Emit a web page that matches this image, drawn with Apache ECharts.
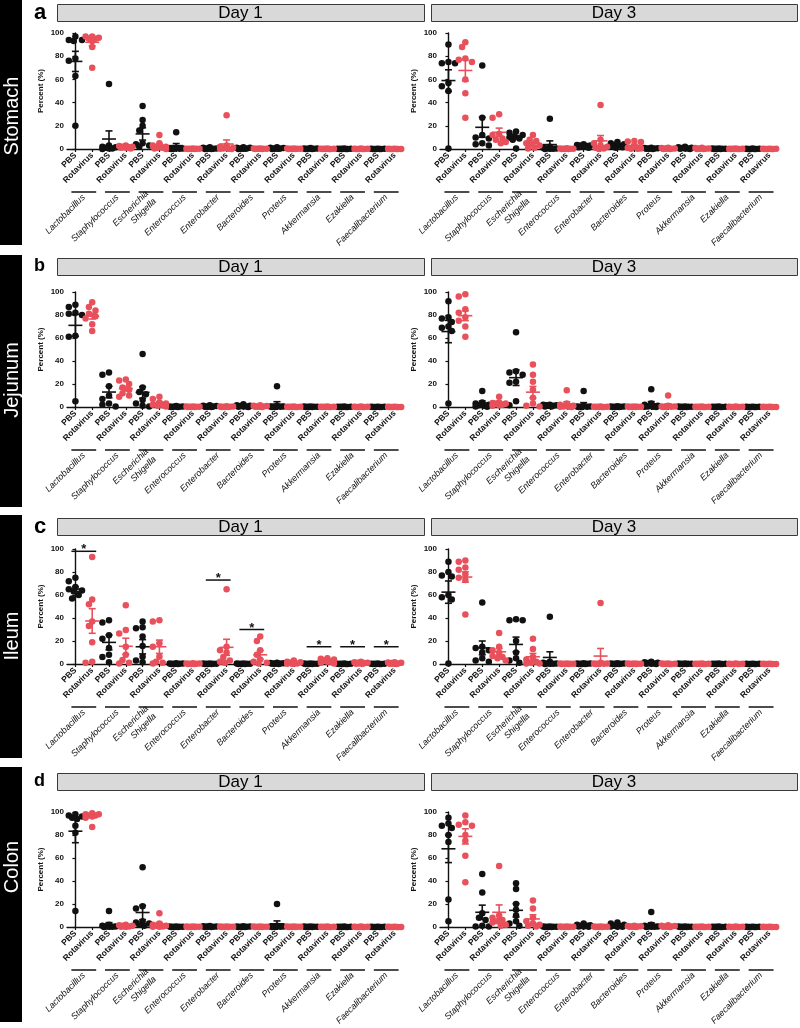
<!DOCTYPE html>
<html>
<head>
<meta charset="utf-8">
<script src="https://cdn.jsdelivr.net/npm/echarts@6/dist/echarts.min.js"></script>
<style>
html,body{margin:0;padding:0;background:#fff;}
#main{width:800px;height:1028px;}
</style>
</head>
<body>
<div id="main"></div>
<script>
// categories
var genera = ['Lactobacillus','Staphylococcus','Escherichia\nShigella','Enterococcus','Enterobacter',
              'Bacteroides','Proteus','Akkermansia','Ezakiella','Faecalibacterium'];
var groups = ['PBS','Rotavirus'];
var tissues = ['Stomach','Jejunum','Ileum','Colon'];
var panelLetters = ['a','b','c','d'];
var days = ['Day 1','Day 3'];

// points per group: order PBS, Rotavirus for each genus
var stomachDay1Pts = [
  [97,94,94,93,78,76,63,20], [97,97,96,95,95,93,88,70],
  [56,3,2,1.5,1,0.5,0.5,0], [3,2.5,2,2,1.5,1,1,0.5],
  [37,25,20,16,5,4,3,2], [12,5,3,2,1,1,0.5,0],
  [14.5,1,0.5,0.5,0.5,0.3,0.2,0], [0.5,0.3,0.3,0.2,0.2,0.1,0.1,0],
  [1.5,1,0.5,0.5,0.3,0.2,0.1,0], [29,3,2,1,0.5,0.3,0.2,0],
  [1.5,1,1,0.5,0.5,0.3,0.2,0.1], [0.5,0.4,0.3,0.3,0.2,0.2,0.1,0],
  [1.5,1,0.8,0.5,0.5,0.3,0.2,0.1], [0.5,0.4,0.3,0.2,0.2,0.1,0.1,0],
  [0.8,0.5,0.4,0.3,0.2,0.2,0.1,0], [0.4,0.3,0.2,0.2,0.1,0.1,0,0],
  [0.4,0.3,0.2,0.2,0.1,0.1,0,0], [0.4,0.3,0.2,0.1,0.1,0,0,0],
  [0.3,0.2,0.2,0.1,0.1,0,0,0], [0.3,0.2,0.1,0.1,0,0,0,0]
];
var stomachDay1Mean = [75.5,92,8.6,2,13,3.2,2.9,0.2,0.5,4.3,0.6,0.3,0.6,0.2,0.3,0.2,0.2,0.1,0.1,0.1];
var stomachDay1Sem  = [8.7,3.2,7,0.3,5.3,1.4,1.8,0.1,0.2,3.5,0.2,0.1,0.2,0.1,0.1,0.05,0.05,0.05,0.05,0.05];

var stomachDay3Pts = [
  [90,75,74,74,57,54,50,0.5], [92,88,78,77,75,60,48,27],
  [72,27,12,10,9,5,4,3], [30,27,13,12,9,8,6,5],
  [15,14,12,11,10,9,8,0.5], [12,8,7,5,4,3,1,0.5],
  [26,2,1,0.5,0.5,0.3,0.2,0], [0.6,0.5,0.3,0.3,0.2,0.1,0.1,0],
  [4,3.5,3,3,2.5,2,1.5,1], [38,8,5,3,2,1,0.5,0],
  [6,5,4,3.5,3,2,1.5,1], [7,6.5,6,2,1,0.5,0.3,0.2],
  [1,0.8,0.6,0.5,0.4,0.3,0.2,0.1], [1,0.8,0.5,0.4,0.3,0.2,0.1,0],
  [2,1.5,1,0.8,0.5,0.4,0.2,0.1], [1,0.8,0.5,0.4,0.3,0.2,0.1,0],
  [0.5,0.4,0.3,0.2,0.2,0.1,0.1,0], [0.4,0.3,0.2,0.2,0.1,0.1,0,0],
  [0.4,0.3,0.2,0.1,0.1,0.1,0,0], [0.3,0.2,0.2,0.1,0.1,0,0,0]
];
var stomachDay3Mean = [59,67.7,18.7,14.4,10,4.9,3.8,0.3,2.5,7,3,3,0.5,0.4,0.8,0.4,0.2,0.2,0.2,0.1];
var stomachDay3Sem  = [9.3,9,8.6,3.6,1.6,1.5,3.2,0.1,0.4,4.6,0.6,1.1,0.1,0.1,0.2,0.1,0.05,0.05,0.05,0.05];

var jejunumDay1Pts = [
  [89,87,82,81,80,62,61,5], [91,87,84,81,79,77,72,66],
  [30,28,18,10,7,3,2,0.5], [24,23,20,17,15,12,10,9],
  [46,17,13,11,6,3,1,0.5], [9,7,4,3,2,1.5,1,0.5],
  [0.8,0.5,0.4,0.3,0.2,0.2,0.1,0], [0.5,0.4,0.3,0.2,0.2,0.1,0.1,0],
  [1.5,1,0.8,0.5,0.4,0.3,0.2,0.1], [0.6,0.5,0.4,0.3,0.2,0.1,0.1,0],
  [2.5,1.5,1,0.8,0.5,0.4,0.2,0.1], [1.5,1,0.8,0.5,0.4,0.3,0.2,0.1],
  [18,1,0.5,0.4,0.3,0.2,0.1,0], [0.4,0.3,0.2,0.2,0.1,0.1,0,0],
  [0.5,0.4,0.3,0.2,0.2,0.1,0.1,0], [0.4,0.3,0.2,0.2,0.1,0.1,0,0],
  [0.4,0.3,0.2,0.2,0.1,0.1,0,0], [0.4,0.3,0.2,0.1,0.1,0,0,0],
  [0.3,0.2,0.2,0.1,0.1,0,0,0], [0.3,0.2,0.1,0.1,0,0,0,0]
];
var jejunumDay1Mean = [71,79,13,16,12.7,3.5,0.3,0.2,0.6,0.3,0.9,0.6,2.3,0.2,0.2,0.2,0.2,0.1,0.1,0.1];
var jejunumDay1Sem  = [9.5,2.5,5,2,5,1.1,0.1,0.1,0.2,0.1,0.3,0.2,2.3,0.05,0.05,0.05,0.05,0.05,0.05,0.05];

var jejunumDay3Pts = [
  [92,78,77,74,70,69,66,3], [98,96,85,82,78,75,70,61],
  [14,4,3,2,1.5,1,0.5,0.3], [9,4,3.5,3,3,2,1.5,1],
  [65,31,30,28,22,21,5,1.5], [37,28,22,15,8,3,1,0.5],
  [2,2,1.5,1.5,1,1,0.5,0.5], [14.5,3,2,1,0.5,0.3,0.2,0],
  [14,1,0.5,0.4,0.3,0.2,0.1,0], [0.4,0.3,0.2,0.2,0.1,0.1,0,0],
  [0.6,0.5,0.4,0.3,0.2,0.1,0.1,0], [0.5,0.4,0.3,0.2,0.2,0.1,0,0],
  [15.5,3,2,1,0.5,0.3,0.2,0], [10,1,0.5,0.4,0.3,0.2,0.1,0],
  [0.5,0.4,0.3,0.2,0.2,0.1,0.1,0], [0.4,0.3,0.2,0.2,0.1,0.1,0,0],
  [0.4,0.3,0.2,0.2,0.1,0.1,0,0], [0.4,0.3,0.2,0.1,0.1,0,0,0],
  [0.3,0.2,0.2,0.1,0.1,0,0,0], [0.3,0.2,0.1,0.1,0,0,0,0]
];
var jejunumDay3Mean = [65.6,79.4,3.4,3.4,25.5,12.9,1.3,2.7,2,0.2,0.3,0.2,2.8,1.6,0.2,0.2,0.2,0.1,0.1,0.1];
var jejunumDay3Sem  = [9.7,4.3,1.8,1,6.8,5,0.2,1.8,1.8,0.05,0.1,0.1,1.9,1.2,0.05,0.05,0.05,0.05,0.05,0.05];

var ileumDay1Pts = [
  [75,72,67,65,64,63,60,57], [93,56,52,37,33,19,2,1],
  [38,36,25,22,14,8,6,1.5], [51,29.5,26.5,15,8,3.5,1,0.5],
  [37,32,31,24,15.6,6.4,3,1.5], [38,37,18,15,6.4,2,1,0.5],
  [0.6,0.5,0.4,0.3,0.2,0.1,0.1,0], [0.6,0.5,0.4,0.3,0.2,0.1,0.1,0],
  [0.5,0.4,0.3,0.3,0.2,0.1,0.1,0], [65,15,12,10,6,3,2,1],
  [0.5,0.4,0.3,0.3,0.2,0.1,0.1,0], [24,20,12,8,4,2,1,0.5],
  [1,0.8,0.6,0.5,0.4,0.3,0.2,0.1], [3,2,1.5,1,0.5,0.5,0.3,0.2],
  [0.5,0.4,0.3,0.2,0.2,0.1,0.1,0], [5,4.5,4,3,2,2,1,0.5],
  [0.4,0.3,0.3,0.2,0.1,0.1,0,0], [2,1.5,1,1,0.8,0.5,0.3,0.2],
  [0.4,0.3,0.2,0.2,0.1,0.1,0,0], [1.5,1.2,1,0.8,0.5,0.3,0.2,0.1]
];
var ileumDay1Mean = [65.2,37.4,18.8,15.4,15,15,0.3,0.3,0.3,14.5,0.3,8,0.5,1.1,0.2,2.8,0.2,0.9,0.2,0.7];
var ileumDay1Sem  = [2,10.7,6.5,7,6.2,5.8,0.1,0.1,0.1,7,0.1,3.8,0.1,0.3,0.05,0.6,0.05,0.2,0.05,0.2];
// significance bars (Ileum, Day 1): genus index and height
var ileumDay1SigGenus = [0,4,5,7,8,9];
var ileumDay1SigLevel = [98,73,30,15,15,15];

var ileumDay3Pts = [
  [89,80,77,76,60,58,56,0.5], [90,89,84,82,78,75,73,43],
  [53.5,15,14,12,10,5,3,2], [27,15,12,10,7,6,5,3],
  [39,38,38,20,10,5,3,1], [22,13,6,4,2,1,0.5,0.5],
  [41,2,1,0.5,0.5,0.3,0.2,0], [0.5,0.4,0.3,0.2,0.2,0.1,0.1,0],
  [0.6,0.5,0.4,0.3,0.2,0.1,0.1,0], [53,1,0.5,0.4,0.3,0.2,0.1,0],
  [0.6,0.5,0.4,0.3,0.2,0.1,0.1,0], [0.5,0.4,0.3,0.2,0.2,0.1,0,0],
  [2,1.5,1,0.8,0.5,0.3,0.2,0.1], [0.5,0.4,0.3,0.2,0.1,0.1,0,0],
  [0.5,0.4,0.3,0.2,0.2,0.1,0.1,0], [0.4,0.3,0.2,0.2,0.1,0.1,0,0],
  [0.4,0.3,0.2,0.2,0.1,0.1,0,0], [0.4,0.3,0.2,0.1,0.1,0,0,0],
  [0.3,0.2,0.2,0.1,0.1,0,0,0], [0.3,0.2,0.1,0.1,0,0,0,0]
];
var ileumDay3Mean = [62.5,75.6,14,10.6,17,6.3,5.7,0.2,0.3,6.9,0.3,0.2,0.8,0.2,0.2,0.2,0.2,0.1,0.1,0.1];
var ileumDay3Sem  = [9.7,4.5,6,2.8,6.4,2.9,4.9,0.05,0.1,6.6,0.1,0.05,0.2,0.05,0.05,0.05,0.05,0.05,0.05,0.05];

var colonDay1Pts = [
  [98,97,96,95,94,88,82,14], [99,98,98,97,97,96,95,87],
  [14,2,1,0.5,0.5,0.3,0.2,0], [2,1.5,1,1,0.5,0.5,0.3,0.2],
  [52,18,16,5,4,3,2,1], [12,3,2,1,1,0.5,0.3,0.2],
  [0.5,0.4,0.3,0.2,0.2,0.1,0.1,0], [0.5,0.4,0.3,0.2,0.2,0.1,0.1,0],
  [0.8,0.6,0.5,0.4,0.3,0.2,0.1,0], [0.5,0.4,0.3,0.2,0.2,0.1,0.1,0],
  [0.6,0.5,0.4,0.3,0.2,0.1,0.1,0], [0.5,0.4,0.3,0.2,0.2,0.1,0.1,0],
  [20,1,0.5,0.4,0.3,0.2,0.1,0], [0.5,0.4,0.3,0.2,0.2,0.1,0.1,0],
  [0.5,0.4,0.3,0.2,0.2,0.1,0.1,0], [0.4,0.3,0.2,0.2,0.1,0.1,0,0],
  [0.4,0.3,0.2,0.2,0.1,0.1,0,0], [0.4,0.3,0.2,0.1,0.1,0,0,0],
  [0.3,0.2,0.2,0.1,0.1,0,0,0], [0.3,0.2,0.1,0.1,0,0,0,0]
];
var colonDay1Mean = [83.3,97.2,2.1,0.9,12.6,2.5,0.2,0.2,0.4,0.2,0.3,0.2,2.8,0.2,0.2,0.2,0.2,0.1,0.1,0.1];
var colonDay1Sem  = [10,1.3,1.7,0.2,6.2,1.4,0.05,0.05,0.1,0.05,0.1,0.05,2.5,0.05,0.05,0.05,0.05,0.05,0.05,0.05];

var colonDay3Pts = [
  [95,90,88,86,80,74,24,5], [97,91,89,88,80,75,62,39],
  [46,30,12,8,6,1,0.5,0.5], [53,10,8,6,5,4,2,1],
  [38,33,20,15,10,5,3,1], [23,16,8,5,3,2,1,0.5],
  [0.5,0.4,0.3,0.2,0.2,0.1,0.1,0], [0.5,0.4,0.3,0.2,0.2,0.1,0.1,0],
  [3,2,1.5,1,1,0.5,0.5,0.3], [0.5,0.4,0.3,0.2,0.2,0.1,0.1,0],
  [4,3,2,1,1,0.5,0.3,0.2], [1,0.8,0.6,0.5,0.4,0.3,0.2,0.1],
  [13,2,1,0.5,0.4,0.3,0.2,0], [1.5,1,0.8,0.5,0.4,0.3,0.2,0.1],
  [0.5,0.4,0.3,0.2,0.2,0.1,0.1,0], [0.4,0.3,0.2,0.2,0.1,0.1,0,0],
  [0.4,0.3,0.2,0.2,0.1,0.1,0,0], [0.4,0.3,0.2,0.1,0.1,0,0,0],
  [0.3,0.2,0.2,0.1,0.1,0,0,0], [0.3,0.2,0.1,0.1,0,0,0,0]
];
var colonDay3Mean = [68,78.8,12.8,12.8,14.5,7,0.2,0.2,1.2,0.2,1.5,0.5,2.2,0.5,0.2,0.2,0.2,0.1,0.1,0.1];
var colonDay3Sem  = [12,6.6,6.2,6.4,5.8,3.6,0.05,0.05,0.3,0.05,0.5,0.1,1.5,0.2,0.05,0.05,0.05,0.05,0.05,0.05];

var BLACK = '#111111', RED = '#e8505b';
var FONT = '"Liberation Sans", Arial, sans-serif';

var panels = [
  {pts: stomachDay1Pts, mean: stomachDay1Mean, sem: stomachDay1Sem},
  {pts: stomachDay3Pts, mean: stomachDay3Mean, sem: stomachDay3Sem},
  {pts: jejunumDay1Pts, mean: jejunumDay1Mean, sem: jejunumDay1Sem},
  {pts: jejunumDay3Pts, mean: jejunumDay3Mean, sem: jejunumDay3Sem},
  {pts: ileumDay1Pts, mean: ileumDay1Mean, sem: ileumDay1Sem, sigGenus: ileumDay1SigGenus, sigLevel: ileumDay1SigLevel},
  {pts: ileumDay3Pts, mean: ileumDay3Mean, sem: ileumDay3Sem},
  {pts: colonDay1Pts, mean: colonDay1Mean, sem: colonDay1Sem},
  {pts: colonDay3Pts, mean: colonDay3Mean, sem: colonDay3Sem}
];

// layout
var rowTop = [33, 292, 549, 812];
var rowH = [116, 115, 115, 115];
var colLeft = [67, 440];
var colW = [336, 338];
var sideBars = [[0,245,116],[255,252,380],[515,243,636],[767,255,867]];
var headTop = [4, 258, 518, 773];
var letterMid = [12.5, 266, 526.5, 781];
var letterSize = [22, 18, 22, 18];

// spread overlapping dots sideways (like a scatter dot plot), offsets in px
function spread(vals, pxPerUnit) {
  var d = 3.3, r = 5.4;
  var tries = [0, -d, d, -2 * d, 2 * d, -0.5 * d, 0.5 * d, -1.5 * d, 1.5 * d];
  var order = vals.map(function (v, i) { return i; })
    .sort(function (a, b) { return vals[b] - vals[a]; });
  var placed = [], offs = [];
  order.forEach(function (i) {
    var y = vals[i] * pxPerUnit, best = 0, bestGap = -1;
    for (var t = 0; t < tries.length; t++) {
      var gap = Infinity;
      placed.forEach(function (p) {
        var dx = p[0] - tries[t], dy = p[1] - y;
        gap = Math.min(gap, Math.sqrt(dx * dx + dy * dy));
      });
      if (gap >= r) { best = tries[t]; break; }
      if (gap > bestGap) { bestGap = gap; best = tries[t]; }
    }
    placed.push([best, y]);
    offs[i] = best;
  });
  return offs;
}

function renderErr(params, api) {
  var x = api.value(0), m = api.value(1), s = api.value(2);
  var c = api.coord([x, m]);
  var hi = api.coord([x, m + s]);
  var lo = api.coord([x, Math.max(m - s, 0)]);
  var col = x % 2 ? RED : BLACK;
  var st = {stroke: col, lineWidth: 1.6};
  return {type: 'group', children: [
    {type: 'line', shape: {x1: c[0] - 7, y1: c[1], x2: c[0] + 7, y2: c[1]}, style: st},
    {type: 'line', shape: {x1: c[0], y1: hi[1], x2: c[0], y2: lo[1]}, style: st},
    {type: 'line', shape: {x1: c[0] - 3.5, y1: hi[1], x2: c[0] + 3.5, y2: hi[1]}, style: st},
    {type: 'line', shape: {x1: c[0] - 3.5, y1: lo[1], x2: c[0] + 3.5, y2: lo[1]}, style: st}
  ]};
}

function renderPairBar(params, api) {
  var j = api.value(0);
  var a = api.coord([2 * j, 0]), b = api.coord([2 * j + 1, 0]);
  return {type: 'line', shape: {x1: a[0] - 4, y1: a[1] + 43, x2: b[0] + 4, y2: a[1] + 43},
    style: {stroke: BLACK, lineWidth: 1.5}};
}

function renderSig(params, api) {
  var j = api.value(0), lv = api.value(1);
  var a = api.coord([2 * j, lv]), b = api.coord([2 * j + 1, lv]);
  return {type: 'group', children: [
    {type: 'line', shape: {x1: a[0] - 4, y1: a[1], x2: b[0] + 4, y2: a[1]}, style: {stroke: BLACK, lineWidth: 1.5}},
    {type: 'text', x: (a[0] + b[0]) / 2, y: a[1] + 5,
      style: {text: '*', fill: BLACK, font: 'bold 13px ' + FONT, align: 'center', verticalAlign: 'bottom'}}
  ]};
}

var grids = [], xAxes = [], yAxes = [], series = [], graphics = [];
var xLabels = [];
genera.forEach(function () { xLabels.push(groups[0], groups[1]); });

panels.forEach(function (p, k) {
  var row = Math.floor(k / 2), col = k % 2;
  grids.push({left: colLeft[col], top: rowTop[row], width: colW[col], height: rowH[row], outerBoundsMode: 'none'});
  var catW = colW[col] / 20, pxU = rowH[row] / 100;

  xAxes.push({type: 'value', gridIndex: k, min: -0.5, max: 19.5, show: false, position: 'bottom'});
  xAxes.push({type: 'category', gridIndex: k, data: xLabels, position: 'bottom',
    axisLine: {lineStyle: {color: BLACK, width: 1.4}},
    axisTick: {show: true, alignWithLabel: true, length: 3, lineStyle: {color: BLACK, width: 1.2}},
    axisLabel: {interval: 0, rotate: 45, margin: 5, fontSize: 8.5, fontWeight: 'bold', color: BLACK, fontFamily: FONT}});
  xAxes.push({type: 'category', gridIndex: k, data: genera, offset: 43, position: 'bottom',
    axisLine: {show: false}, axisTick: {show: false},
    axisLabel: {interval: 0, rotate: 45, margin: 4, fontSize: 9, fontStyle: 'italic', color: BLACK, fontFamily: FONT, lineHeight: 11}});
  yAxes.push({type: 'value', gridIndex: k, min: 0, max: 100, interval: 20, position: 'left',
    name: 'Percent (%)', nameLocation: 'middle', nameGap: 22,
    nameTextStyle: {fontSize: 8, fontWeight: 'bold', color: BLACK, fontFamily: FONT},
    axisLine: {show: true, lineStyle: {color: BLACK, width: 1.4}},
    axisTick: {show: true, length: 3, lineStyle: {color: BLACK, width: 1.2}},
    axisLabel: {fontSize: 8, fontWeight: 'bold', color: BLACK, margin: 3, fontFamily: FONT},
    splitLine: {show: false}});

  var dots = [[], []], err = [];
  p.pts.forEach(function (vals, i) {
    var offs = spread(vals, pxU);
    vals.forEach(function (v, n) { dots[i % 2].push([i + offs[n] / catW, v]); });
    err.push([i, p.mean[i], p.sem[i]]);
  });
  [0, 1].forEach(function (g) {
    series.push({type: 'scatter', xAxisIndex: 3 * k, yAxisIndex: k, data: dots[g],
      symbol: 'circle', symbolSize: 6.5, clip: false, z: 2,
      itemStyle: {color: g ? RED : BLACK, opacity: 1}, silent: true});
  });
  series.push({type: 'custom', xAxisIndex: 3 * k, yAxisIndex: k, data: err, renderItem: renderErr,
    encode: {x: 0, y: 1}, clip: false, z: 3, silent: true});
  series.push({type: 'custom', xAxisIndex: 3 * k, yAxisIndex: k, data: genera.map(function (g, j) { return [j, 0]; }),
    renderItem: renderPairBar, encode: {x: 0, y: 1}, clip: false, silent: true});
  if (p.sigGenus) {
    series.push({type: 'custom', xAxisIndex: 3 * k, yAxisIndex: k,
      data: p.sigGenus.map(function (g, j) { return [g, p.sigLevel[j]]; }),
      renderItem: renderSig, encode: {x: 0, y: 1}, clip: false, silent: true});
  }
});

// side bars, panel letters and Day headers
tissues.forEach(function (t, r) {
  var sb = sideBars[r];
  graphics.push({type: 'rect', shape: {x: 0, y: sb[0], width: 22, height: sb[1]}, style: {fill: '#000'}});
  graphics.push({type: 'text', x: 12, y: sb[2], rotation: Math.PI / 2,
    style: {text: t, fill: '#fff', font: '20px ' + FONT, align: 'center', verticalAlign: 'middle'}});
  graphics.push({type: 'text', x: 34, y: letterMid[r],
    style: {text: panelLetters[r], fill: '#000', font: 'bold ' + letterSize[r] + 'px ' + FONT, align: 'left', verticalAlign: 'middle'}});
  [[57, 367], [431, 366]].forEach(function (b, c) {
    graphics.push({type: 'rect', shape: {x: b[0] + 0.5, y: headTop[r] + 0.5, width: b[1], height: 17},
      style: {fill: '#d9d9d9', stroke: '#3a3a3a', lineWidth: 1}});
    graphics.push({type: 'text', x: b[0] + b[1] / 2, y: headTop[r] + 9.5,
      style: {text: days[c], fill: '#000', font: '17px ' + FONT, align: 'center', verticalAlign: 'middle'}});
  });
});

var myChart = echarts.init(document.getElementById('main'), null, {renderer: 'canvas'});
myChart.setOption({
  animation: false,
  backgroundColor: '#fff',
  grid: grids,
  xAxis: xAxes,
  yAxis: yAxes,
  series: series,
  graphic: graphics
});
</script>
</body>
</html>
